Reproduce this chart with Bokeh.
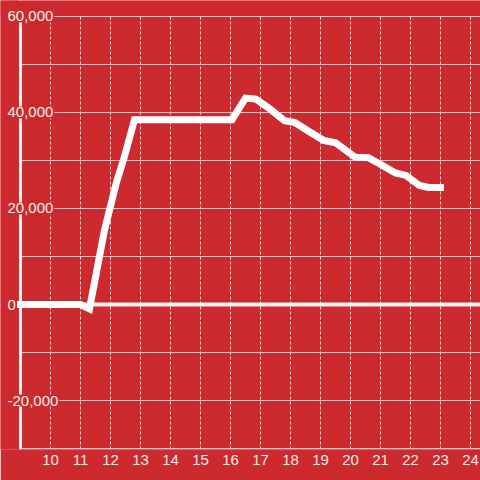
from bokeh.plotting import figure
from bokeh.models import FixedTicker, Span, ColumnDataSource, Range1d, BoxAnnotation
from bokeh.core.properties import value
from bokeh.embed import file_html
from bokeh.resources import INLINE

# ---- data ----
hours = [9.0, 11.0, 11.3, 11.8, 12.2, 12.45, 12.8, 16.05, 16.5, 16.85, 17.3, 17.8,
         18.15, 18.55, 19.1, 19.5, 20.15, 20.6, 21.05, 21.5, 21.85, 22.3, 22.6, 23.0]
values = [0, 0, -900, 15500, 25500, 30500, 38500, 38500, 43000, 42800, 40800, 38300,
          37900, 36300, 34200, 33700, 30700, 30600, 29000, 27400, 26900, 24800, 24400, 24400]

x_ticks = list(range(10, 25))
y_label_ticks = [60000, 40000, 20000, 0, -20000]
y_grid_ticks = [60000, 50000, 40000, 30000, 20000, 10000, 0, -10000, -20000, -30000]
y_axis_at = 9.0
y_top = 60000

RED = "#cc2a2e"
LIGHT = "#eeeeee"
FONT = "Liberation Sans"

p = figure(frame_width=480, frame_height=449,
           x_range=Range1d(8.333, 24.333), y_range=Range1d(-30208, 63333),
           y_axis_location=None, toolbar_location=None, output_backend="svg",
           min_border_left=0, min_border_right=0, min_border_top=0, min_border_bottom=31)
p.background_fill_color = RED
p.border_fill_color = RED
p.outline_line_color = None

# x axis
xa = p.xaxis[0]
xa.ticker = FixedTicker(ticks=x_ticks)
xa.axis_line_color = None
xa.major_tick_line_color = None
xa.minor_tick_line_color = None
xa.major_tick_out = 0
xa.major_tick_in = 0
xa.major_label_standoff = 5
xa.major_label_text_color = LIGHT
xa.major_label_text_font = FONT
xa.major_label_text_font_size = "15px"

# grids
p.xgrid.ticker = FixedTicker(ticks=x_ticks)
p.xgrid.grid_line_color = "#dddddd"
p.xgrid.grid_line_dash = "3 2"
p.xgrid.grid_line_width = 1
p.ygrid.ticker = FixedTicker(ticks=y_grid_ticks)
p.ygrid.grid_line_color = "#cccccc"
p.ygrid.grid_line_width = 1

# zero line
p.add_layout(Span(location=0, dimension="width", line_color=LIGHT,
                  line_width=4, level="underlay"))
# y axis line
p.add_layout(Span(location=y_axis_at, dimension="height", line_color=LIGHT,
                  line_width=3, level="underlay"))
# mask grid left of the axis and above the top tick
p.add_layout(BoxAnnotation(right=y_axis_at - 0.05, fill_color=RED, fill_alpha=1,
                           line_color=None, level="underlay"))
p.add_layout(BoxAnnotation(bottom=y_top + 300, fill_color=RED, fill_alpha=1,
                           line_color=None, level="underlay"))

# data line
p.line(hours, values, line_color="white", line_width=7,
       line_join="miter", line_cap="square")

# y tick labels
lab_src = ColumnDataSource(dict(
    x=[y_axis_at] * len(y_label_ticks),
    y=y_label_ticks,
    t=[f"{v:,}" for v in y_label_ticks],
))
p.text(x="x", y="y", text="t", source=lab_src, x_offset=-14,
       text_align="left", text_baseline="middle",
       text_font=value(FONT), text_font_size="15px", text_color=LIGHT,
       background_fill_color=RED, padding=1)

open("out.html", "w").write(file_html(p, INLINE))
